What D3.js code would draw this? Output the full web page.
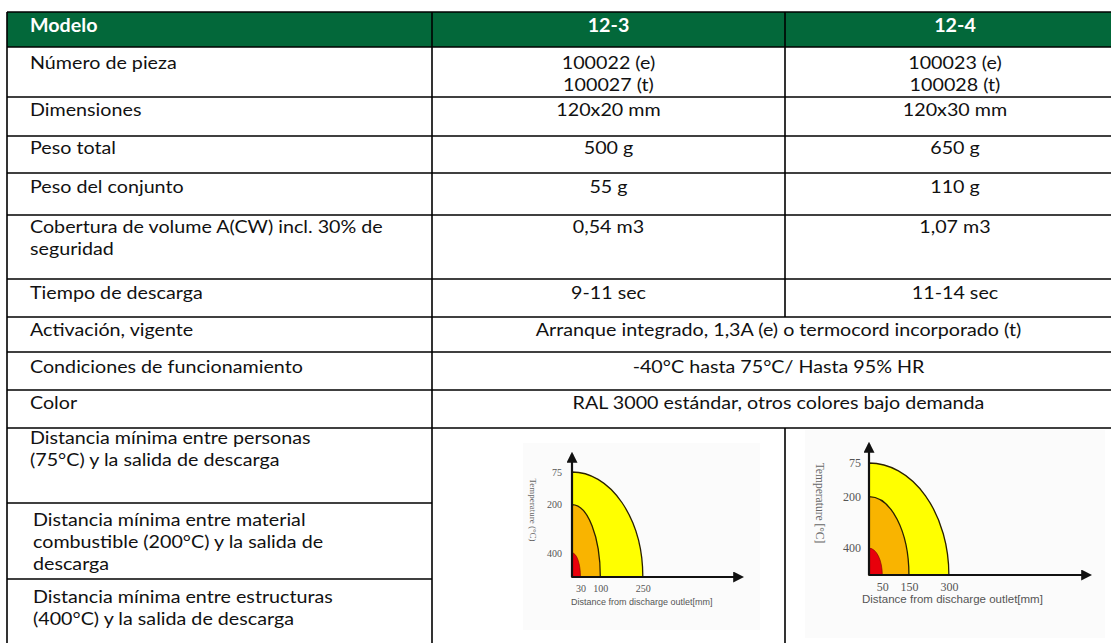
<!DOCTYPE html>
<html><head><meta charset="utf-8">
<script src="https://cdn.jsdelivr.net/npm/d3@7"></script>
<style>html,body{margin:0;padding:0;background:#fff;} svg{display:block;}</style>
</head><body><svg id="c" width="1111" height="643"></svg>
<script>
// ---------- data ----------
const headerLabel = "Modelo";
const models = ["12-3", "12-4"];
const rowLabels = [
  ["Número de pieza"],
  ["Dimensiones"],
  ["Peso total"],
  ["Peso del conjunto"],
  ["Cobertura de volume A(CW) incl. 30% de", "seguridad"],
  ["Tiempo de descarga"],
  ["Activación, vigente"],
  ["Condiciones de funcionamiento"],
  ["Color"],
  ["Distancia mínima entre personas", "(75°C) y la salida de descarga"],
  ["Distancia mínima entre material", "combustible (200°C) y la salida de", "descarga"],
  ["Distancia mínima entre estructuras", "(400°C) y la salida de descarga"]
];
const values12_3 = [["100022 (e)", "100027 (t)"], ["120x20 mm"], ["500 g"], ["55 g"], ["0,54 m3"], ["9-11 sec"]];
const values12_4 = [["100023 (e)", "100028 (t)"], ["120x30 mm"], ["650 g"], ["110 g"], ["1,07 m3"], ["11-14 sec"]];
const sharedValues = [
  "Arranque integrado, 1,3A (e) o termocord incorporado (t)",
  "-40°C hasta 75°C/ Hasta 95% HR",
  "RAL 3000 estándar, otros colores bajo demanda"
];
// discharge zone charts
const tempLabels = ["75", "200", "400"];
const dist12_3 = [250, 100, 30];        // mm
const dist12_4 = [300, 150, 50];        // mm
const reach12_3 = [1.0, 0.69, 0.23];    // relative vertical extent of each zone
const reach12_4 = [1.0, 0.70, 0.24];
const zoneColors = ["#ffff00", "#f9b400", "#e8000b"];
const yTitle1 = "Temperature (°C)";
const yTitle2 = "Temperature [°C]";
const xTitle = "Distance from discharge outlet[mm]";

// ---------- layout ----------
const colX = [7, 432, 785, 1125];
const rowY = [12, 47, 97, 136, 173, 215, 279, 317, 352, 390, 428, 503, 579, 645];
const textOffset = [16, 13, 12, 14, 12, 14, 13, 15, 13, 10, 17, 18];
const lineH = 22;
const FONT = "Lato, 'Open Sans', sans-serif";
const FS = 18;
const green = "#03683a";

const svg = d3.select("#c");

const probe = svg.append("text").attr("font-family", FONT).attr("font-size", FS)
  .text("Distancia mínima entre estructuras");
const kx = 300 / probe.node().getComputedTextLength();
probe.remove();

function put(g, x, y, str, anchor, opts = {}) {
  const gg = g.append("g").attr("transform", `translate(${x},${y}) scale(${kx},1)`);
  gg.append("text")
    .attr("text-anchor", anchor)
    .attr("dy", "0.35em")
    .attr("font-family", FONT)
    .attr("font-size", opts.size || FS)
    .attr("font-weight", opts.bold ? 700 : 400)
    .attr("fill", opts.fill || "#111")
    .text(str);
}

// header
svg.append("rect").attr("x", colX[0]).attr("y", rowY[0]).attr("width", colX[3] - colX[0])
  .attr("height", rowY[1] - rowY[0]).attr("fill", green);
const tg = svg.append("g");
put(tg, 30, rowY[0] + 14, headerLabel, "start", {bold: true, fill: "#fff"});
models.forEach((m, i) => put(tg, (colX[i + 1] + colX[i + 2]) / 2, rowY[0] + 14, m, "middle", {bold: true, fill: "#fff"}));

rowLabels.forEach((lines, r) => {
  const top = rowY[r + 1];
  const x0 = r >= 10 ? 33 : 30;
  lines.forEach((s, j) => put(tg, x0, top + textOffset[r] + j * lineH, s, "start"));
});
values12_3.forEach((lines, r) => {
  const top = rowY[r + 1];
  lines.forEach((s, j) => put(tg, (colX[1] + colX[2]) / 2, top + textOffset[r] + j * lineH, s, "middle"));
});
values12_4.forEach((lines, r) => {
  const top = rowY[r + 1];
  lines.forEach((s, j) => put(tg, (colX[2] + colX[3]) / 2, top + textOffset[r] + j * lineH, s, "middle"));
});
sharedValues.forEach((s, i) => {
  const r = 6 + i;
  put(tg, (colX[1] + colX[3]) / 2, rowY[r + 1] + textOffset[r], s, "middle");
});

const lg = svg.append("g").attr("stroke", "#000").attr("stroke-width", 1.6);
rowY.forEach((y, i) => {
  const inChart = i === 11 || i === 12;
  lg.append("line").attr("x1", colX[0]).attr("x2", inChart ? colX[1] : colX[3]).attr("y1", y).attr("y2", y);
});
lg.append("line").attr("x1", colX[0]).attr("x2", colX[0]).attr("y1", rowY[0]).attr("y2", 643);
lg.append("line").attr("x1", colX[1]).attr("x2", colX[1]).attr("y1", rowY[0]).attr("y2", 643);
lg.append("line").attr("x1", colX[2]).attr("x2", colX[2]).attr("y1", rowY[0]).attr("y2", rowY[7]);
lg.append("line").attr("x1", colX[2]).attr("x2", colX[2]).attr("y1", rowY[10]).attr("y2", 643);

// ---------- charts ----------
const defs = svg.append("defs");
defs.append("marker").attr("id", "arr").attr("viewBox", "0 0 10 10").attr("refX", 8).attr("refY", 5)
  .attr("markerWidth", 5).attr("markerHeight", 5).attr("orient", "auto")
  .append("path").attr("d", "M0,0 L10,5 L0,10 Z").attr("fill", "#111");

function drawChart(cfg) {
  const g = svg.append("g");
  g.append("rect").attr("x", cfg.bg[0]).attr("y", cfg.bg[1]).attr("width", cfg.bg[2]).attr("height", cfg.bg[3])
    .attr("fill", "#fbfbfb");
  const x = d3.scaleLinear().domain([0, cfg.xMax]).range([cfg.ox, cfg.ox + cfg.xLen]);
  const y = d3.scaleLinear().domain([0, 1]).range([cfg.oy, cfg.oy - cfg.zoneH]);
  cfg.dist.forEach((d, i) => {
    const rx = x(d) - x(0), ry = y(0) - y(cfg.reach[i]);
    g.append("path")
      .attr("d", `M${x(0)},${y(0)} L${x(0)},${y(cfg.reach[i])} A${rx},${ry} 0 0 1 ${x(d)},${y(0)} Z`)
      .attr("fill", zoneColors[i]).attr("stroke", i === 2 ? "#7a0000" : "#2a2000").attr("stroke-width", i === 2 ? 0.6 : 1.3);
  });
  g.append("line").attr("x1", x(0)).attr("y1", y(0)).attr("x2", x(0)).attr("y2", cfg.arrowTop)
    .attr("stroke", "#111").attr("stroke-width", 2.2).attr("marker-end", "url(#arr)");
  g.append("line").attr("x1", x(0)).attr("y1", y(0)).attr("x2", x(cfg.xMax)).attr("y2", y(0))
    .attr("stroke", "#111").attr("stroke-width", 2.2).attr("marker-end", "url(#arr)");
  const xa = g.append("g").attr("transform", `translate(0,${y(0) + 2})`)
    .call(d3.axisBottom(x).tickValues(cfg.dist.slice().reverse()).tickSize(0).tickPadding(cfg.tickPad));
  xa.select(".domain").remove();
  xa.selectAll("text").attr("font-family", "'Liberation Serif', serif").attr("font-size", cfg.tickFs).attr("fill", "#555");
  const ya = g.append("g").attr("transform", `translate(${x(0) - cfg.yPad},0)`)
    .call(d3.axisLeft(y).tickValues(cfg.reach).tickFormat((v, i) => tempLabels[i]).tickSize(0).tickPadding(0));
  ya.select(".domain").remove();
  ya.selectAll("text").attr("font-family", "'Liberation Serif', serif").attr("font-size", cfg.tickFs).attr("fill", "#555");
  g.append("text").attr("x", cfg.xtX).attr("y", cfg.xtY).attr("font-family", "'Liberation Sans', sans-serif")
    .attr("font-size", cfg.titleFs).attr("fill", "#555").attr("dy", "0.35em").text(xTitle);
  g.append("text").attr("transform", `translate(${cfg.ytX},${cfg.ytY}) rotate(90)`).attr("text-anchor", "middle")
    .attr("font-family", "'Liberation Serif', serif").attr("font-size", cfg.titleFs).attr("fill", "#666")
    .attr("dy", "0.35em").text(cfg.yTitle);
}

drawChart({ox: 572, oy: 577, xMax: 600, xLen: 170, zoneH: 105, arrowTop: 454, dist: dist12_3, reach: reach12_3,
  bg: [523, 443, 237, 187], tickPad: 6, tickFs: 10, yPad: 10, titleFs: 9, xtX: 571, xtY: 602, ytX: 533, ytY: 510, yTitle: yTitle1});
drawChart({ox: 869, oy: 575, xMax: 830, xLen: 221, zoneH: 112, arrowTop: 444, dist: dist12_4, reach: reach12_4,
  bg: [805, 430, 300, 208], tickPad: 5, tickFs: 12, yPad: 8, titleFs: 11.5, xtX: 862, xtY: 599, ytX: 820, ytY: 503, yTitle: yTitle2});
</script></body></html>
